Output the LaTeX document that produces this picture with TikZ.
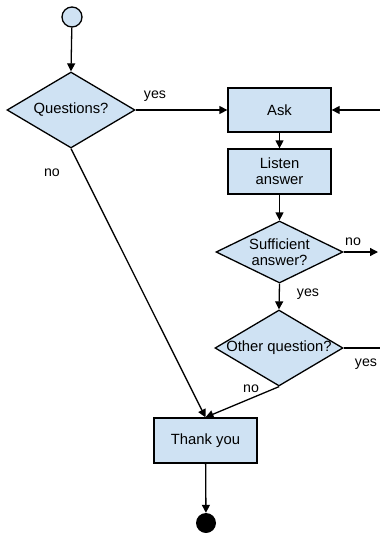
\documentclass[tikz,border=0pt]{standalone}
\usepackage{fontspec}
\setmainfont{Liberation Sans}
\usetikzlibrary{shapes.geometric,arrows.meta}
\definecolor{boxfill}{HTML}{CFE2F3}
\begin{document}
\begin{tikzpicture}[x=1pt,y=-1pt,
  every node/.style={font=\fontsize{14.8}{16.3}\selectfont},
  box/.style={draw, line width=1.3pt, fill=boxfill, minimum width=103pt, minimum height=44pt, inner sep=0pt, align=center},
  dia/.style={draw, line width=1.3pt, fill=boxfill, diamond, inner sep=0pt},
  txt/.style={align=center, inner sep=0pt},
  lbl/.style={inner sep=0pt, font=\fontsize{14.2}{16}\selectfont},
  conn/.style={line width=1.3pt},
  arr/.style={conn, -{Triangle[length=8pt,width=8pt]}}
  ]
\useasboundingbox (0,0) rectangle (380,533);
\node[circle, draw, line width=1.3pt, fill=boxfill, minimum size=20pt, inner sep=0pt] (start) at (72,17) {};
\node[dia, minimum width=128pt, minimum height=76pt] (q) at (71,110) {};
\node[txt] (qt) at (q) {Questions?};
\node[box] (ask) at (279.5,110) {Ask};
\node[box, minimum height=45pt] (listen) at (279.5,171.5) {Listen\\answer};
\node[dia, minimum width=127pt, minimum height=62pt] (suf) at (279.5,252) {};
\node[txt] (suft) at (suf) {Sufficient\\answer?};
\node[dia, minimum width=128pt, minimum height=76pt] (oth) at (279,348) {};
\node[txt] (otht) at (oth) {Other question?};
\node[box, minimum height=45pt] (thanks) at (205.5,440.5) {Thank you};
\node[circle, fill=black, minimum size=20pt, inner sep=0pt] (end) at (206,523) {};
\coordinate (askin) at (380,110);
\coordinate (sufout) at (378,252);
\coordinate (othout) at (380,348);
\draw[arr] (start) -- (q.north);
\draw[arr] (q.east) -- (ask.west);
\draw[arr] (askin) -- (ask.east);
\draw[arr] (ask) -- (listen);
\draw[arr] (listen) -- (suf.north);
\draw[arr] (suf.east) -- (sufout);
\draw[arr] (suf.south) -- (oth.north);
\draw[conn] (oth.east) -- (othout);
\draw[arr] (q.south) -- (thanks.north);
\draw[arr] (oth.south) -- (thanks.north);
\draw[arr] (thanks) -- (end);
\node[lbl] (yes1) at (155,96) {yes};
\node[lbl] (no1) at (52,173) {no};
\node[lbl] (no2) at (353,242) {no};
\node[lbl] (yes2) at (308,294) {yes};
\node[lbl] (yes3) at (366,364) {yes};
\node[lbl] (no3) at (251,389) {no};
\end{tikzpicture}
\end{document}
